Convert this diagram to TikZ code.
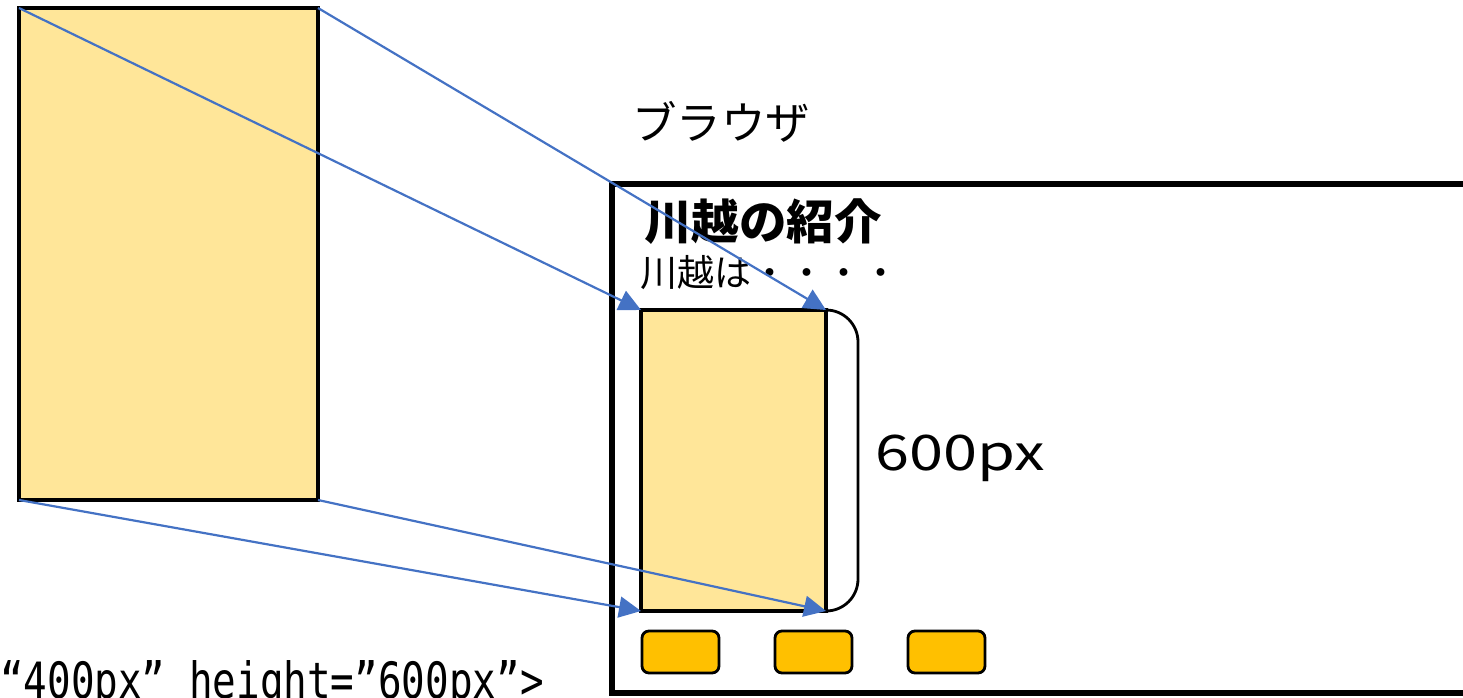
\documentclass[tikz,border=0pt]{standalone}
\usepackage{fontspec}
\setmainfont{Noto Sans CJK JP}
\newfontfamily\codefont{DejaVu Sans Mono}
\usetikzlibrary{arrows.meta}
\definecolor{imgfill}{HTML}{FFE699}
\definecolor{btnfill}{HTML}{FFC000}
\definecolor{arrowblue}{HTML}{4472C4}
\tikzset{
  imgbox/.style={draw=black,line width=3.5pt,fill=imgfill},
  btn/.style={draw=black,line width=2.8pt,fill=btnfill,rounded corners=7pt},
  maparrow/.style={draw=arrowblue,line width=2.2pt,-{Triangle[length=22pt,width=21pt]}},
}
\begin{document}
\begin{tikzpicture}[x=1pt,y=-1pt]
\useasboundingbox (0,0) rectangle (1463,698);
\begin{scope}
\clip (0,0) rectangle (1463,698);
% big image
\draw[imgbox] (19,8) rectangle (318,500);
\coordinate (BTL) at (19,8);
\coordinate (BTR) at (318,8);
\coordinate (BBL) at (19,500);
\coordinate (BBR) at (318,500);
% browser frame
\draw[line width=6.5pt] (1480,184) -- (612,184) -- (612,693) -- (1480,693);
\node[anchor=west,font=\fontsize{44.5pt}{44.5pt}\selectfont,inner sep=0pt] (browser) at (632,122) {ブラウザ};
\node[anchor=west,font=\fontsize{47.5pt}{47.5pt}\selectfont\bfseries,inner sep=0pt] (title) at (644,222) {川越の紹介};
\node[anchor=west,font=\fontsize{37pt}{37pt}\selectfont,inner sep=0pt] (sub) at (640,273) {川越は・・・・};
% small image
\draw[imgbox] (641,310) rectangle (826,611);
\coordinate (STL) at (641,310);
\coordinate (STR) at (826,310);
\coordinate (SBL) at (641,611);
\coordinate (SBR) at (826,611);
% bracket
\draw[line width=2.8pt] (STR) to[out=0,in=90] (858,342) -- (858,579) to[out=-90,in=0] (SBR);
\node[anchor=west,inner sep=0pt] (h) at (875,458) {\scalebox{1.25}[1]{\fontsize{49pt}{49pt}\selectfont 600px}};
% buttons
\draw[btn] (642,631) rectangle (719,673);
\draw[btn] (775,631) rectangle (852,673);
\draw[btn] (908,631) rectangle (985,673);
% arrows
\draw[maparrow] (BTL) -- (STL);
\draw[maparrow] (BTR) -- (STR);
\draw[maparrow] (BBL) -- (SBL);
\draw[maparrow] (BBR) -- (SBR);
% code text (cut off at the picture's edge, as in the reference)
\node[anchor=base west,inner sep=0pt] (code) at (0,698) {\scalebox{0.785}[1]{\codefont\fontsize{50pt}{50pt}\selectfont “400px”\ height=”600px”>}};
\end{scope}
\end{tikzpicture}
\end{document}
